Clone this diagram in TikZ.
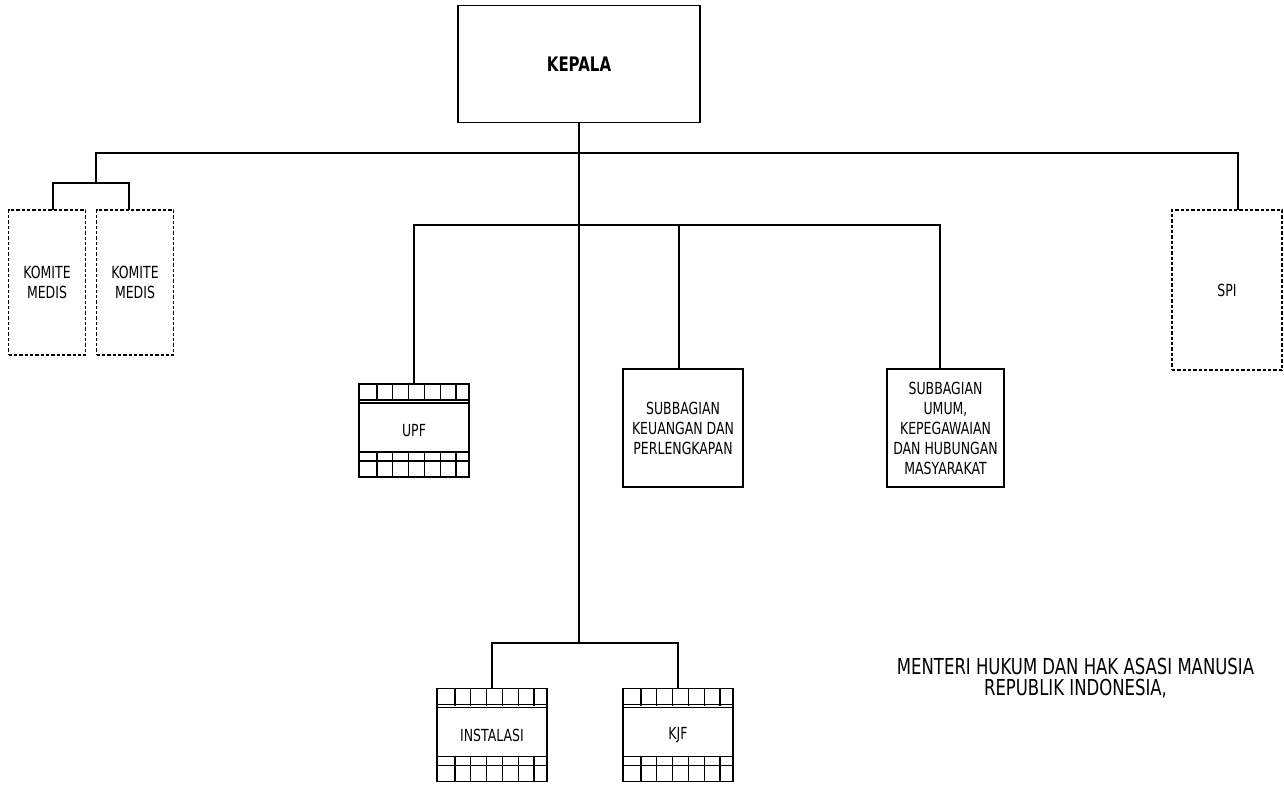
\documentclass[tikz,border=0pt]{standalone}
\usepackage{fontspec}
\setmainfont{DejaVu Sans}[FakeStretch=0.75]
\usetikzlibrary{positioning}
\tikzset{
 box/.style={draw,line width=1.2pt,align=center,outer sep=0pt,inner sep=1pt,font=\fontsize{12.5}{15}\selectfont},
 dbox/.style={box,line width=0.9pt,dash pattern=on 2.5pt off 1.5pt},
 unitbox/.style={box,minimum width=110*0.75pt,minimum height=93*0.75pt},
 link/.style={line width=1.4pt}
}
\newcommand{\filmstrip}[1]{%
 \begin{scope}[shift={(#1.north west)},line width=1pt]
 \foreach \i in {0,...,5}
  \draw (18+15.8*\i,0)--(18+15.8*\i,17) (18+15.8*\i,68)--(18+15.8*\i,93);
 \draw (0,16)--(110,16) (0,19)--(110,19);
 \draw (0,68)--(110,68) (0,77)--(110,77);
 \end{scope}}
\begin{document}
\begin{tikzpicture}[x=0.75pt,y=-0.75pt]
 \useasboundingbox (0,0) rectangle (1284,785);
 \node[box,minimum width=242*0.75pt,minimum height=117*0.75pt,font=\fontsize{15}{17}\selectfont\bfseries] (kepala) at (579,64) {KEPALA};
 \node[dbox,minimum width=77*0.75pt,minimum height=145*0.75pt] (komite1) at (47,282.5) {KOMITE\\MEDIS};
 \node[dbox,minimum width=77*0.75pt,minimum height=145*0.75pt] (komite2) at (135,282.5) {KOMITE\\MEDIS};
 \node[dbox,minimum width=110*0.75pt,minimum height=160*0.75pt] (spi) at (1227,290) {SPI};
 \node[unitbox] (upf) at (414,430.5) {UPF};
 \node[box,minimum width=120*0.75pt,minimum height=118*0.75pt] (keu) at (683,428) {SUBBAGIAN\\KEUANGAN DAN\\PERLENGKAPAN};
 \node[box,minimum width=117*0.75pt,minimum height=118*0.75pt] (umum) at (945.5,428) {SUBBAGIAN\\UMUM,\\KEPEGAWAIAN\\DAN HUBUNGAN\\MASYARAKAT};
 \node[unitbox] (instalasi) at (492,735) {INSTALASI};
 \node[unitbox] (kjf) at (678,735) {KJF};
 \node[align=center,font=\fontsize{16.5}{15.75}\selectfont] (menteri) at (1075.5,678) {MENTERI HUKUM DAN HAK ASASI MANUSIA\\REPUBLIK INDONESIA,};
 \filmstrip{upf}
 \filmstrip{instalasi}
 \filmstrip{kjf}
 \coordinate (jtop) at (579,153);
 \coordinate (jmid) at (579,225);
 \coordinate (jbot) at (579,643);
 \coordinate (jkom) at (96,183);
 \draw[link] (kepala.south) -- (jbot);
 \draw[link] (jkom) |- (jtop) -| ([xshift=8.25pt]spi.north);
 \draw[link] ([xshift=4.5pt]komite1.north) |- (jkom) -| ([xshift=-4.5pt]komite2.north);
 \draw[link] (upf.north) |- (jmid) -| ([xshift=-4pt]umum.north);
 \draw[link] (jmid) -| ([xshift=-3pt]keu.north);
 \draw[link] (instalasi.north) |- (jbot) -| (kjf.north);
\end{tikzpicture}
\end{document}
